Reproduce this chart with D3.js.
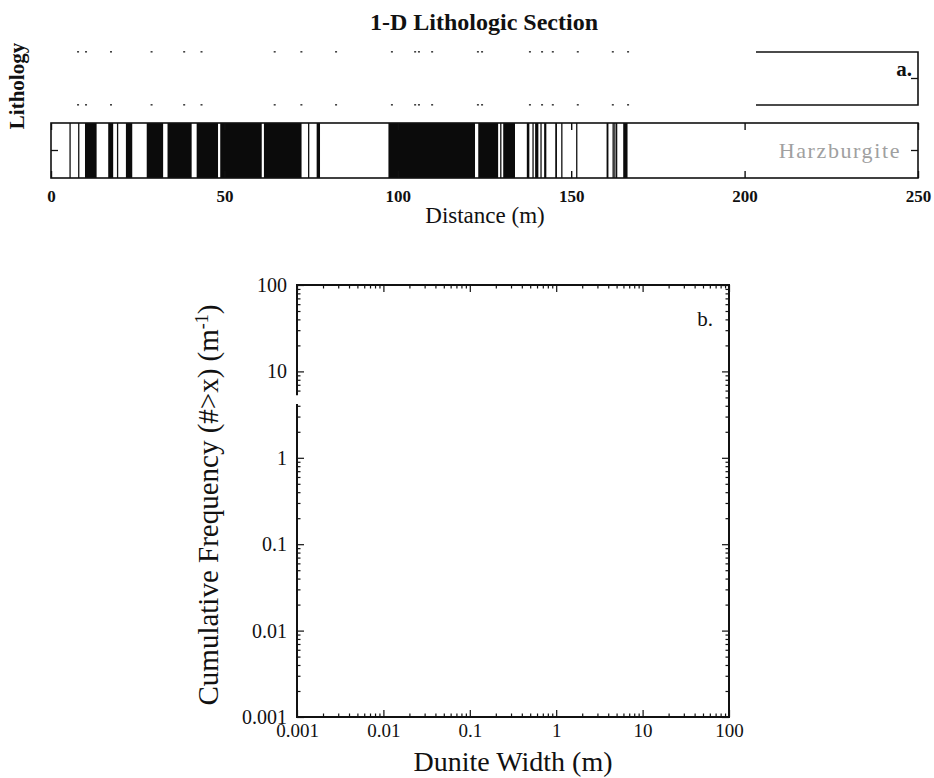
<!DOCTYPE html>
<html>
<head>
<meta charset="utf-8">
<script src="https://cdn.jsdelivr.net/npm/d3@7"></script>
<style>
  html, body { margin: 0; padding: 0; background: #fff; }
  svg { display: block; }
  text { font-family: "Liberation Serif", "Times New Roman", serif; fill: #111; }
</style>
</head>
<body>
<svg id="fig" width="934" height="778"></svg>
<script>
// ---- Panel a: lithologic units along the section (start distance in m, rock type) ----
// D = dunite (black), H = harzburgite (white)
const unitStart = [0, 5.5, 8.0, 9.8, 13.2, 16.5, 18.0, 19.2, 21.6, 23.5, 27.6, 32.4, 33.6, 40.6, 42.0,
  48.2, 48.8, 60.8, 61.4, 72.3, 74.3, 76.6, 77.6, 97.3, 122.3, 123.2, 129.0, 129.7, 130.4, 133.8,
  137.2, 138.0, 139.0, 139.6, 140.6, 141.3, 142.2, 142.9, 145.4, 145.9, 147.3, 151.6, 160.2, 160.8,
  162.1, 162.6, 163.1, 165.0, 166.3];
const unitRock = ["H", "H", "H", "D", "H", "D", "H", "H", "D", "H", "D", "H", "D", "H", "D",
  "H", "D", "H", "D", "H", "H", "D", "H", "D", "H", "D", "H", "H", "D", "H",
  "D", "H", "H", "D", "H", "H", "D", "H", "D", "H", "H", "H", "D", "H",
  "H", "H", "H", "D", "H"];
const sectionEnd = 250;
const distanceTicks = [0, 50, 100, 150, 200, 250];
// faint marks left along the upper (empty) row
const upperRowMarks = [7.8, 10.1, 17.3, 29.0, 38.4, 43.4, 64.5, 72.2, 82.2, 98.3, 105.0, 106.1,
  109.9, 123.1, 124.3, 138.1, 141.6, 144.7, 151.9, 162.0, 166.4];

// ---- Panel b: log-log frame ----
const widthTicks = [0.001, 0.01, 0.1, 1, 10, 100];
const freqTicks = [0.001, 0.01, 0.1, 1, 10, 100];
const leftSpineGap = [4.2, 5.3];

const svg = d3.select("#fig");
svg.append("rect").attr("width", 934).attr("height", 778).attr("fill", "#fff");

// ================= Panel a =================
const xA = d3.scaleLinear().domain([0, sectionEnd]).range([51, 918]);
const stripTop = 123, stripBot = 178;
const rowTop = 52, rowBot = 105;

svg.append("text").attr("x", 484).attr("y", 30).attr("text-anchor", "middle")
  .attr("font-size", 24).attr("font-weight", "bold").text("1-D Lithologic Section");

svg.append("text").attr("transform", "translate(24,86) rotate(-90)").attr("text-anchor", "middle")
  .attr("font-size", 21).attr("font-weight", "bold").text("Lithology");

const units = unitStart.map((s, i) => ({
  start: s,
  end: i < unitStart.length - 1 ? unitStart[i + 1] : sectionEnd,
  rock: unitRock[i]
}));

const gA = svg.append("g");
gA.selectAll("rect.unit").data(units).join("rect")
  .attr("class", "unit")
  .attr("x", d => xA(d.start))
  .attr("y", stripTop)
  .attr("width", d => xA(d.end) - xA(d.start))
  .attr("height", stripBot - stripTop)
  .attr("fill", d => d.rock === "D" ? "#0b0b0b" : "#fff");

// contacts between adjacent harzburgite units
const hhContacts = units.filter((d, i) => i > 0 && d.rock === "H" && units[i - 1].rock === "H");
gA.selectAll("line.contact").data(hhContacts).join("line")
  .attr("class", "contact")
  .attr("x1", d => xA(d.start)).attr("x2", d => xA(d.start))
  .attr("y1", stripTop).attr("y2", stripBot)
  .attr("stroke", "#111").attr("stroke-width", 1.3);

// strip frame
gA.append("rect").attr("x", xA(0)).attr("y", stripTop)
  .attr("width", xA(sectionEnd) - xA(0)).attr("height", stripBot - stripTop)
  .attr("fill", "none").attr("stroke", "#111").attr("stroke-width", 1.6);

// inward ticks top and bottom
const axA = d3.axisBottom(xA).tickValues(distanceTicks).tickSize(-7).tickPadding(12)
  .tickFormat(d3.format("d"));
const gAx = svg.append("g").attr("transform", `translate(0,${stripBot})`).call(axA);
gAx.select(".domain").remove();
gAx.selectAll(".tick line").attr("stroke", "#111").attr("stroke-width", 1.4);
gAx.selectAll(".tick text").attr("font-size", 17).attr("font-weight", "bold")
  .attr("font-family", "Liberation Serif").attr("fill", "#111");
const axAtop = d3.axisTop(xA).tickValues(distanceTicks).tickSize(-7).tickFormat("");
const gAxT = svg.append("g").attr("transform", `translate(0,${stripTop})`).call(axAtop);
gAxT.select(".domain").remove();
gAxT.selectAll(".tick line").attr("stroke", "#111").attr("stroke-width", 1.4);

// category tick on both sides
const midY = (stripTop + stripBot) / 2;
gA.append("line").attr("x1", xA(0)).attr("x2", xA(0) + 7).attr("y1", midY).attr("y2", midY)
  .attr("stroke", "#111").attr("stroke-width", 1.3);
gA.append("line").attr("x1", xA(sectionEnd) - 7).attr("x2", xA(sectionEnd)).attr("y1", midY).attr("y2", midY)
  .attr("stroke", "#111").attr("stroke-width", 1.3);
gA.append("text").attr("x", xA(sectionEnd) - 17).attr("y", midY + 7).attr("text-anchor", "end")
  .attr("font-size", 22).attr("letter-spacing", 1.6).style("fill", "#a0a0a0").text("Harzburgite");

svg.append("text").attr("x", 485).attr("y", 223).attr("text-anchor", "middle")
  .attr("font-size", 23).text("Distance (m)");

// upper row: frame remains on the right end
const rowLeft = 756;
const gR = svg.append("g");
gR.append("path")
  .attr("d", `M${rowLeft},${rowTop}H${xA(sectionEnd)}V${rowBot}H${rowLeft}`)
  .attr("fill", "none").attr("stroke", "#111").attr("stroke-width", 1.6);
gR.append("line").attr("x1", xA(sectionEnd) - 7).attr("x2", xA(sectionEnd))
  .attr("y1", (rowTop + rowBot) / 2).attr("y2", (rowTop + rowBot) / 2)
  .attr("stroke", "#111").attr("stroke-width", 1.3);
gR.append("text").attr("x", 912).attr("y", 76).attr("text-anchor", "end")
  .attr("font-size", 21).attr("font-weight", "bold").text("a.");
[rowTop, rowBot].forEach(yy => {
  gR.selectAll(null).data(upperRowMarks).join("rect")
    .attr("x", d => xA(d) - 1).attr("y", yy - 1).attr("width", 2).attr("height", 1.6)
    .attr("fill", "#444");
});

// ================= Panel b =================
const L = 297, R = 729, T = 285, B = 717;
const xB = d3.scaleLog().domain([0.001, 100]).range([L, R]);
const yB = d3.scaleLog().domain([0.001, 100]).range([B, T]);

const minorVals = [];
for (let e = -3; e < 2; e++) for (let m = 2; m <= 9; m++) minorVals.push(m * Math.pow(10, e));
const inGap = v => v > leftSpineGap[0] && v < leftSpineGap[1];

const gB = svg.append("g");
const lab = v => String(v);

function styleAxis(g, size) {
  g.select(".domain").remove();
  g.selectAll(".tick line").attr("stroke", "#111").attr("stroke-width", 1.2);
  g.selectAll(".tick text").attr("font-size", size || 20).attr("font-family", "Liberation Serif")
    .attr("fill", "#111");
}

// bottom
styleAxis(gB.append("g").attr("transform", `translate(0,${B})`)
  .call(d3.axisBottom(xB).tickValues(widthTicks).tickSize(-7).tickPadding(7).tickFormat(lab)), 19);
styleAxis(gB.append("g").attr("transform", `translate(0,${B})`)
  .call(d3.axisBottom(xB).tickValues(minorVals).tickSize(-3.5).tickFormat("")));
// top
styleAxis(gB.append("g").attr("transform", `translate(0,${T})`)
  .call(d3.axisTop(xB).tickValues(widthTicks).tickSize(-7).tickFormat("")));
styleAxis(gB.append("g").attr("transform", `translate(0,${T})`)
  .call(d3.axisTop(xB).tickValues(minorVals).tickSize(-3.5).tickFormat("")));
// left
styleAxis(gB.append("g").attr("transform", `translate(${L},0)`)
  .call(d3.axisLeft(yB).tickValues(freqTicks).tickSize(-7).tickPadding(10).tickFormat(lab)));
styleAxis(gB.append("g").attr("transform", `translate(${L},0)`)
  .call(d3.axisLeft(yB).tickValues(minorVals.filter(v => !inGap(v))).tickSize(-3.5).tickFormat("")));
// right
styleAxis(gB.append("g").attr("transform", `translate(${R},0)`)
  .call(d3.axisRight(yB).tickValues(freqTicks).tickSize(-7).tickFormat("")));
styleAxis(gB.append("g").attr("transform", `translate(${R},0)`)
  .call(d3.axisRight(yB).tickValues(minorVals).tickSize(-3.5).tickFormat("")));

// frame (left spine broken)
gB.append("path")
  .attr("d", `M${L},${yB(leftSpineGap[0])}V${B}H${R}V${T}H${L}V${yB(leftSpineGap[1])}`)
  .attr("fill", "none").attr("stroke", "#111").attr("stroke-width", 2);

gB.append("text").attr("x", 713).attr("y", 326).attr("text-anchor", "end")
  .attr("font-size", 21).text("b.");

gB.append("text").attr("x", 513).attr("y", 771).attr("text-anchor", "middle")
  .attr("font-size", 28).text("Dunite Width (m)");

const yt = gB.append("text").attr("transform", `translate(218,${(T + B) / 2 + 4}) rotate(-90)`)
  .attr("text-anchor", "middle").attr("font-size", 29);
yt.append("tspan").text("Cumulative Frequency (#>x) (m");
yt.append("tspan").attr("dy", -10).attr("font-size", 18).text("-1");
yt.append("tspan").attr("dy", 10).text(")");
</script>
</body>
</html>
